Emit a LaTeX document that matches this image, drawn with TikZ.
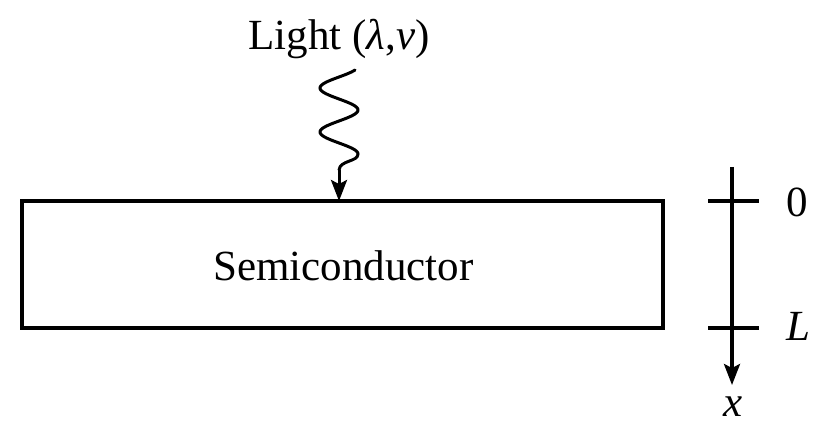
\documentclass[tikz,border=0pt]{standalone}
\usepackage{fontspec}
\setmainfont{Liberation Serif}
\usetikzlibrary{arrows.meta}
\begin{document}
\begin{tikzpicture}[x=1pt,y=-1pt,
  thick line/.style={line width=3.2pt},
  tip/.style={-{Stealth[length=21pt,width=16pt,inset=4pt]}},
  lbl/.style={inner sep=0pt,font=\fontsize{43}{50}\selectfont}]
\useasboundingbox (0,0) rectangle (827,427);
% semiconductor slab
\node[draw,thick line,minimum width=641pt,minimum height=127pt,inner sep=0pt,
  font=\fontsize{43}{50}\selectfont] (semi) at (342.5,264.5) {};
\node[lbl] (semitext) at (343.5,266) {Semiconductor};
% light label and wave
\node[lbl,anchor=base] (light) at (339,50) {Light ({\itshape λ},{\itshape ν})};
\coordinate (hit) at (339,201);
\draw[line width=3pt,line cap=round]
  plot[domain=70:154,samples=90,smooth] ({339-19*sin(8.181818*(\x-77))},\x)
  .. controls (358,162) and (340,160) .. (339,170) coordinate (wend);
\draw[line width=3pt,tip] (wend) -- (hit);
% x axis
\coordinate (axtop) at (732,167);
\coordinate (axend) at (732,385);
\draw[thick line,tip] (axtop) -- (axend);
\coordinate (t0l) at (708,201);
\coordinate (t0r) at (759,201);
\coordinate (tLl) at (708,328);
\coordinate (tLr) at (759,328);
\draw[thick line] (t0l) -- (t0r);
\draw[thick line] (tLl) -- (tLr);
\node[lbl] (zero) at (797,202) {0};
\node[lbl] (ell) at (798,326) {\itshape L};
\node[lbl] (xlab) at (733,407) {\itshape x};
\end{tikzpicture}
\end{document}
